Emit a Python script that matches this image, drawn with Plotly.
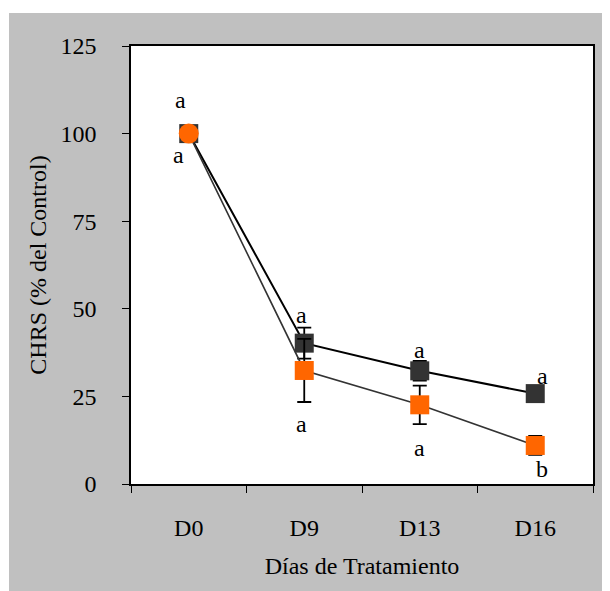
import plotly.graph_objects as go

# ---- data ----
categories = ["D0", "D9", "D13", "D16"]
dark_values = [100, 40.2, 32.3, 25.8]
dark_errors = [0, 4.4, 2.8, 1.5]
orange_values = [100, 32.4, 22.6, 11.0]
orange_errors = [0, 9.0, 5.5, 2.7]
dark_letters = ["a", "a", "a", "a"]
orange_letters = ["a", "a", "a", "b"]
y_ticks = [0, 25, 50, 75, 100, 125]

# ---- styling ----
FONT = "Liberation Serif"
FS = 24
DARK = "#333333"
ORANGE = "#FF6600"
GREY = "#C0C0C0"

fig = go.Figure()

fig.add_trace(go.Scatter(
    x=categories, y=dark_values, mode="lines+markers",
    line=dict(color="black", width=2),
    marker=dict(symbol="square", size=19, color=DARK, opacity=1, line=dict(width=0)),
    error_y=dict(type="data", array=dark_errors, visible=True,
                 color="black", thickness=1.8, width=7),
    showlegend=False, cliponaxis=False,
))
fig.add_trace(go.Scatter(
    x=categories, y=orange_values, mode="lines+markers",
    line=dict(color=DARK, width=1.6),
    marker=dict(symbol=["circle", "square", "square", "square"],
                size=[20, 19, 19, 19], color=ORANGE, opacity=1, line=dict(width=0)),
    error_y=dict(type="data", array=orange_errors, visible=True,
                 color="black", thickness=1.8, width=7),
    showlegend=False, cliponaxis=False,
))

# letter annotations (positions chosen per label)
dark_label_y = [109.7, 48.3, 38.3, 30.9]
orange_label_y = [94.0, 17.1, 10.3, 4.3]
label_xshift_dark = [-8, -3, 0, 7]
label_xshift_orange = [-10, -3, 0, 7]
annotations = []
for i, c in enumerate(categories):
    annotations.append(dict(x=c, y=dark_label_y[i], text=dark_letters[i],
                            xref="x", yref="y", showarrow=False,
                            xshift=label_xshift_dark[i],
                            font=dict(family=FONT, size=FS, color="black")))
    annotations.append(dict(x=c, y=orange_label_y[i], text=orange_letters[i],
                            xref="x", yref="y", showarrow=False,
                            xshift=label_xshift_orange[i],
                            font=dict(family=FONT, size=FS, color="black")))

W, H = 602, 583
L, R, T, B = 123, 17, 38, 107
pw, ph = W - L - R, H - T - B

def px_to_paper_x(px):
    return (px - L) / pw

def px_to_paper_y(py):
    return (H - B - py) / ph

shapes = [
    # white strips outside the grey frame (top and left)
    dict(type="rect", xref="paper", yref="paper", layer="below",
         x0=px_to_paper_x(0), x1=px_to_paper_x(W), y0=px_to_paper_y(5), y1=px_to_paper_y(0),
         fillcolor="white", line=dict(width=0)),
    dict(type="rect", xref="paper", yref="paper", layer="below",
         x0=px_to_paper_x(0), x1=px_to_paper_x(1), y0=px_to_paper_y(H), y1=px_to_paper_y(0),
         fillcolor="white", line=dict(width=0)),
]

fig.update_layout(
    width=W, height=H,
    margin=dict(l=L, r=R, t=T, b=B, pad=0),
    paper_bgcolor=GREY, plot_bgcolor="white",
    font=dict(family=FONT, size=FS, color="black"),
    annotations=annotations, shapes=shapes,
    xaxis=dict(
        type="category", range=[-0.5, 3.5],
        showline=True, linecolor="black", linewidth=1.5, mirror=True,
        ticks="outside", ticklen=7, tickcolor="black", tickwidth=1.2,
        tickson="boundaries", showgrid=False, zeroline=False,
        ticklabelstandoff=21,
        tickfont=dict(family=FONT, size=FS, color="black"),
        title=dict(text="Días de Tratamiento", standoff=18,
                   font=dict(family=FONT, size=FS, color="black")),
        automargin=False, fixedrange=True,
    ),
    yaxis=dict(
        range=[0, 125], tickvals=y_ticks,
        showline=True, linecolor="black", linewidth=1.5, mirror=True,
        ticks="outside", ticklen=7, tickcolor="black", tickwidth=1.2,
        showgrid=False, zeroline=False,
        ticklabelstandoff=21,
        tickfont=dict(family=FONT, size=FS, color="black"),
        title=dict(text="CHRS (% del Control)", standoff=7,
                   font=dict(family=FONT, size=FS, color="black")),
        automargin=False, fixedrange=True,
    ),
)

fig.write_html(
    "out.html",
    config={"displayModeBar": False},
    post_script="document.documentElement.style.overflow='hidden';"
                "document.body.style.overflow='hidden';",
)
